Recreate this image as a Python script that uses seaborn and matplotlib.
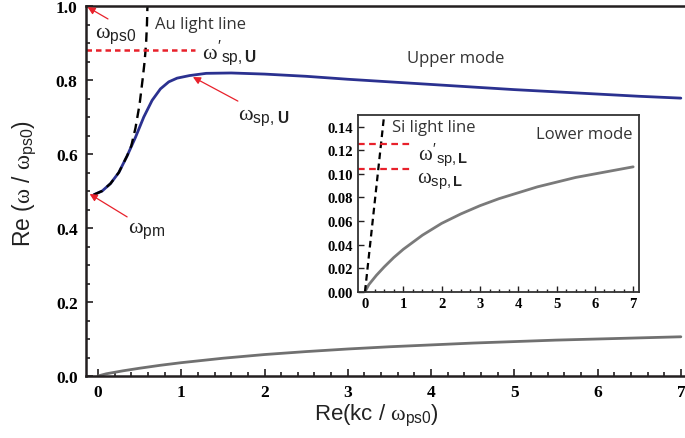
import matplotlib
matplotlib.use("Agg")
import matplotlib.pyplot as plt
import seaborn as sns
from matplotlib.ticker import MultipleLocator

# --- data ---
k_upper = [-0.05, 0.05, 0.15, 0.25, 0.35, 0.45, 0.55, 0.65, 0.75, 0.85, 0.95, 1.1, 1.3,
           1.6, 2.0, 2.5, 3.0, 3.5, 4.0, 4.5, 5.0, 5.5, 6.0, 6.5, 7.0]
w_upper = [0.49, 0.50, 0.52, 0.55, 0.595, 0.645, 0.70, 0.745, 0.776, 0.795, 0.805, 0.812, 0.818,
           0.819, 0.816, 0.810, 0.802, 0.795, 0.788, 0.781, 0.774, 0.768, 0.762, 0.756, 0.751]

k_au = [-0.05, 0.05, 0.15, 0.25, 0.35, 0.40, 0.45, 0.50, 0.535, 0.56, 0.578, 0.588, 0.594]
w_au = [0.49, 0.50, 0.52, 0.55, 0.595, 0.622, 0.67, 0.735, 0.80, 0.85, 0.90, 0.95, 1.0]

k_lower = [0.0, 0.05, 0.1, 0.2, 0.3, 0.5, 0.75, 1.0, 1.5, 2.0, 2.5, 3.0, 3.5, 4.0,
           4.5, 5.0, 5.5, 6.0, 6.5, 7.0]
w_lower = [0.0, 0.003, 0.006, 0.010, 0.014, 0.021, 0.029, 0.036, 0.048, 0.058, 0.066, 0.073,
           0.079, 0.084, 0.089, 0.093, 0.097, 0.100, 0.103, 0.106]

k_si = [0.0, 0.5]
w_si = [0.0, 0.15]

w_sp_u_prime = 0.88
w_sp_l_prime = 0.1255
w_sp_l = 0.1043

sns.set_theme(style="ticks")
plt.rcParams["font.family"] = ["Liberation Sans", "DejaVu Sans"]
plt.rcParams["mathtext.fontset"] = "custom"
plt.rcParams["mathtext.rm"] = "Liberation Sans"
plt.rcParams["mathtext.it"] = "Liberation Serif"
plt.rcParams["mathtext.bf"] = "Liberation Sans:bold"

blue = "#2B3190"
grey = "#7a7a7a"
red = "#E8212B"
spine = "#231F20"

fig = plt.figure(figsize=(6.85, 4.39), dpi=100)
ax = fig.add_axes([86 / 685, 1 - 377 / 439, 599 / 685, 370 / 439])

xmin, xmax = -0.144, 7.05
sns.lineplot(x=k_lower, y=w_lower, ax=ax, color="#707070", lw=2, sort=False, estimator=None)
sns.lineplot(x=k_upper, y=w_upper, ax=ax, color=blue, lw=2, sort=False, estimator=None)
sns.lineplot(x=k_au, y=w_au, ax=ax, color="black", lw=1.7, sort=False, estimator=None,
             linestyle=(0, (4, 2.5)))
sns.lineplot(x=[xmin, 1.16], y=[w_sp_u_prime, w_sp_u_prime], ax=ax, color=red, lw=1.8,
             linestyle=(0, (2.2, 1.6)))

ax.set_xlim(xmin, xmax)
ax.set_ylim(0, 1.0)
ax.xaxis.set_major_locator(MultipleLocator(1))
ax.xaxis.set_minor_locator(MultipleLocator(0.2))
ax.yaxis.set_major_locator(MultipleLocator(0.2))
ax.yaxis.set_minor_locator(MultipleLocator(0.05))
ax.yaxis.set_major_formatter(matplotlib.ticker.FormatStrFormatter("%.1f"))
ax.tick_params(which="both", direction="in", colors=spine, width=1.2)
ax.tick_params(which="major", length=5)
ax.tick_params(which="minor", length=3)
ax.tick_params(axis="x", pad=6)
ax.tick_params(axis="y", pad=6)
ax.spines["right"].set_visible(False)
for s in ["left", "bottom", "top"]:
    ax.spines[s].set_linewidth(1.8)
    ax.spines[s].set_color(spine)
ax.set_xlabel("")
ax.set_ylabel("")

fig.text(376 / 685, 1 - 415 / 439, r"Re(kc / $\omega_{\mathrm{ps0}}$)", fontsize=16,
         ha="center", va="center", color="#222222")
fig.text(24 / 685, 1 - 184 / 439, r"Re ($\omega$ / $\omega_{\mathrm{ps0}}$)", fontsize=16.5,
         ha="center", va="center", rotation=90, color="#222222")

arrow = dict(arrowstyle="-|>", color=red, lw=0.9, mutation_scale=11, shrinkA=0, shrinkB=0)
omega_kw = dict(fontsize=16, color="#222222")

ax.annotate("", xy=(-0.125, 0.997), xytext=(0.12, 0.965), arrowprops=arrow)
ax.text(-0.03, 0.922, r"$\omega_{\mathrm{ps0}}$", ha="left", va="center", **omega_kw)
ax.text(0.68, 0.951, "Au light line", fontsize=12, family="Open Sans", ha="left",
        va="center", color="#333333")
ax.text(1.25, 0.876, r"$\omega'_{\mathrm{sp,}\mathbf{U}}$", ha="left", va="center", **omega_kw)
ax.annotate("", xy=(1.14, 0.808), xytext=(1.68, 0.743), arrowprops=arrow)
ax.text(1.68, 0.70, r"$\omega_{\mathrm{sp,}\,\mathbf{U}}$", ha="left", va="center", **omega_kw)
ax.annotate("", xy=(-0.10, 0.492), xytext=(0.35, 0.43), arrowprops=arrow)
ax.text(0.36, 0.395, r"$\omega_{\mathrm{pm}}$", ha="left", va="center", **omega_kw)
ax.text(3.71, 0.859, "Upper mode", fontsize=12, family="Open Sans", ha="left",
        va="center", color="#333333")

# --- inset: lower mode ---
ins = fig.add_axes([358.3 / 685, 1 - 292.7 / 439, 281 / 685, 176.7 / 439])
ins.set_facecolor("white")
ixmin = -0.175
sns.lineplot(x=k_lower, y=w_lower, ax=ins, color=grey, lw=2, sort=False, estimator=None)
sns.lineplot(x=k_si, y=w_si, ax=ins, color="black", lw=1.6, sort=False, estimator=None,
             linestyle=(0, (3, 2)))
for lvl in [w_sp_l_prime, w_sp_l]:
    sns.lineplot(x=[ixmin, 1.17], y=[lvl, lvl], ax=ins, color=red, lw=1.6,
                 linestyle=(0, (3, 2)))
ins.set_xlim(ixmin, 7.16)
ins.set_ylim(0, 0.15)
ins.xaxis.set_major_locator(MultipleLocator(1))
ins.xaxis.set_minor_locator(MultipleLocator(0.25))
ins.yaxis.set_major_locator(MultipleLocator(0.02))
ins.yaxis.set_major_formatter(matplotlib.ticker.FormatStrFormatter("%.2f"))
ins.tick_params(which="both", direction="in", colors=spine, width=1.0, top=False, right=False)
ins.tick_params(which="major", length=4, pad=4)
ins.tick_params(which="minor", length=2.5)
for s in ins.spines.values():
    s.set_linewidth(1.3)
    s.set_color("#333333")
ins.set_xlabel("")
ins.set_ylabel("")
ins.text(0.70, 0.140, "Si light line", fontsize=12, family="Open Sans", ha="left",
         va="center", color="#333333")
ins.text(6.97, 0.134, "Lower mode", fontsize=12, family="Open Sans", ha="right",
         va="center", color="#333333")
ins.text(1.38, 0.1165, r"$\omega'_{\mathrm{sp,}\mathbf{L}}$", ha="left", va="center",
         fontsize=15, color="#222222")
ins.text(1.36, 0.0945, r"$\omega_{\mathrm{sp,}\mathbf{L}}$", ha="left", va="center",
         fontsize=15, color="#222222")

# tick labels: bold serif, set after a draw so the tick objects exist
fig.canvas.draw()
for a, size in [(ax, 12.5), (ins, 10.5)]:
    for lab in a.get_xticklabels() + a.get_yticklabels():
        lab.set_fontfamily("Liberation Serif")
        lab.set_fontweight("bold")
        lab.set_fontsize(size)
        lab.set_color("black")

fig.savefig("out.png", dpi=100, facecolor="white")
